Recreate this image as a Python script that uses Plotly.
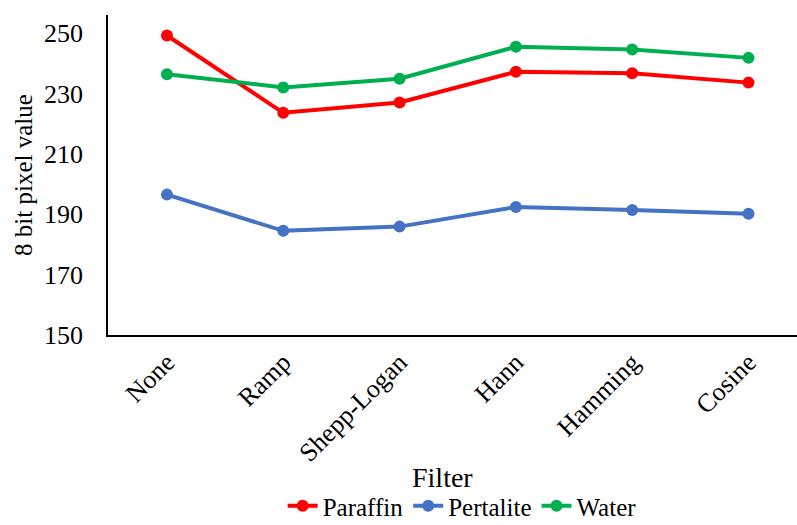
import plotly.graph_objects as go

# Reconstruction filters compared
filters = ["None", "Ramp", "Shepp-Logan", "Hann", "Hamming", "Cosine"]

# Mean 8-bit pixel value per material for each filter
paraffin = [249.2, 223.6, 227.0, 237.2, 236.7, 233.6]
pertalite = [196.5, 184.5, 185.9, 192.4, 191.4, 190.2]
water = [236.4, 232.0, 234.9, 245.5, 244.6, 241.8]

series = [
    ("Paraffin", paraffin, "#FF0000"),
    ("Pertalite", pertalite, "#4472C4"),
    ("Water", water, "#00B050"),
]

FONT = "Times New Roman, Liberation Serif, serif"
xpos = list(range(len(filters)))

fig = go.Figure()
for name, vals, color in series:
    fig.add_trace(go.Scatter(
        x=xpos, y=vals, name=name, mode="lines+markers",
        line=dict(color=color, width=4),
        marker=dict(color=color, size=12),
    ))

fig.update_layout(
    width=797, height=525,
    margin=dict(l=108, r=0, t=15, b=190, autoexpand=False),
    paper_bgcolor="white", plot_bgcolor="white",
    font=dict(family=FONT, color="black", size=25),
    showlegend=True,
    legend=dict(
        orientation="h", x=0.514, xanchor="center", y=(335 - 506) / 320, yanchor="middle",
        font=dict(family=FONT, size=25, color="black"),
        tracegroupgap=0,
    ),
    xaxis=dict(
        range=[-0.507, 5.417], automargin=False,
        tickmode="array", tickvals=xpos, ticktext=filters,
        tickangle=-45, showgrid=False, zeroline=False,
        showline=True, linecolor="black", linewidth=1.5,
        ticks="", tickfont=dict(family=FONT, size=26),
    ),
    yaxis=dict(
        range=[150, 256], automargin=False,
        tickvals=[150, 170, 190, 210, 230, 250],
        showgrid=False, zeroline=False,
        showline=True, linecolor="black", linewidth=1.5,
        ticks="", ticklabelstandoff=18,
        tickfont=dict(family=FONT, size=26),
        title=dict(text="8 bit pixel value", font=dict(family=FONT, size=25), standoff=4),
    ),
    annotations=[dict(
        text="Filter", xref="paper", yref="paper",
        x=(442 - 108) / 689, y=(335 - 477) / 320,
        xanchor="center", yanchor="middle", showarrow=False,
        font=dict(family=FONT, size=28, color="black"),
    )],
)

fig.write_html("out.html")
